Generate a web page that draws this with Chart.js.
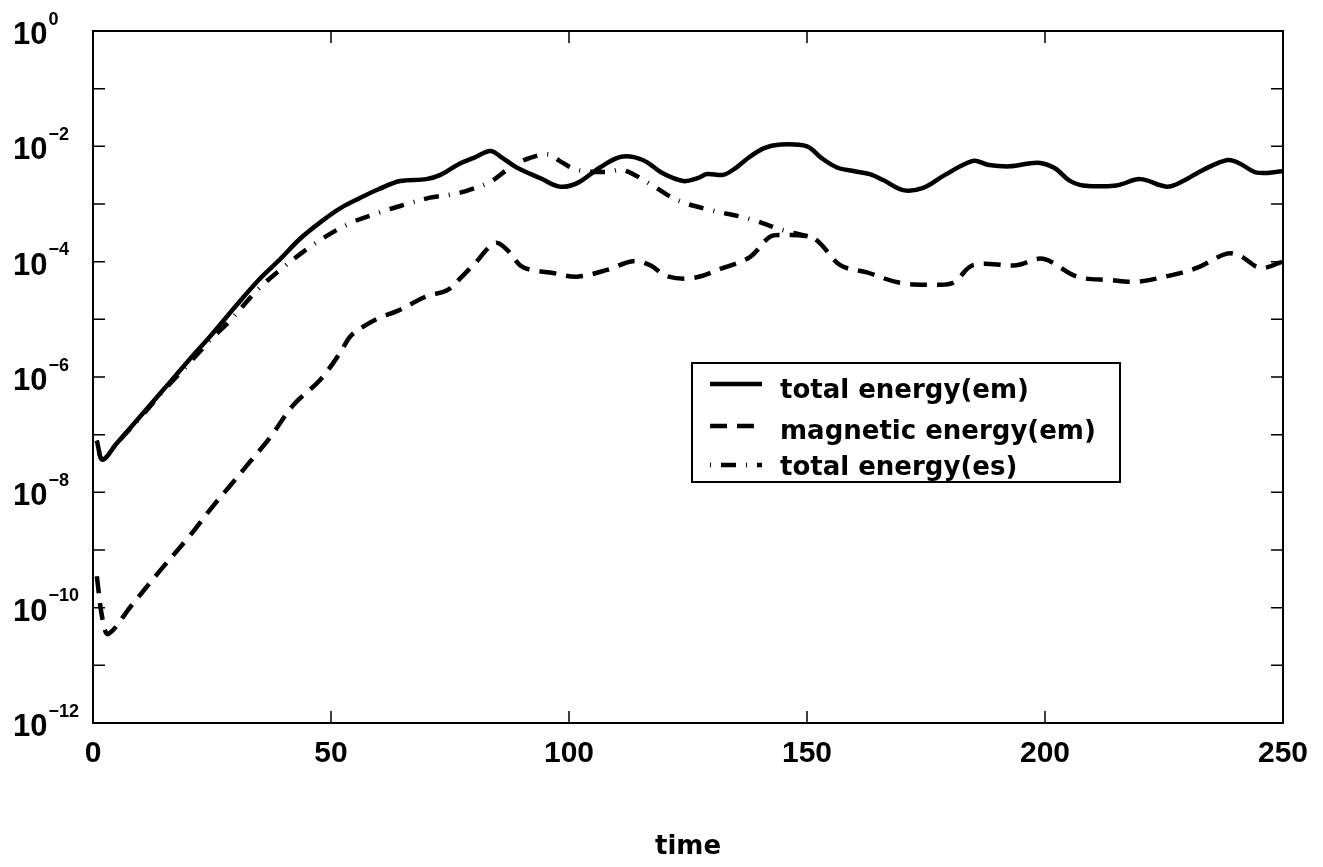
<!DOCTYPE html>
<html>
<head>
<meta charset="utf-8">
<script src="https://cdn.jsdelivr.net/npm/chart.js@4.4.0/dist/chart.umd.min.js"></script>
<style>
html, body { margin: 0; padding: 0; background: #fff; }
</style>
</head>
<body>
<canvas id="graficoEnergia" width="1323" height="867"></canvas>
<script>
// total energy (em) - solid line
var tempoTotalEm = [0.8, 2, 5, 10, 15, 20, 25, 30, 35, 39.3, 43.5, 48, 52, 56, 60, 64.5, 70, 73, 77, 80, 83.5, 86, 89, 94, 98, 101.7, 106.5, 111, 115.5, 119.7, 124, 127, 129, 132.4, 135, 138, 141, 144, 150, 153, 156.3, 160, 163.2, 166, 170.2, 174.4, 179, 184.9, 188, 192.6, 198.5, 202, 205, 208, 215, 220, 225.6, 229, 233.2, 238.4, 241, 244.5, 250];
var energiaTotalEm = [7.9e-8, 3.7e-8, 7.1e-8, 2.1e-7, 6.3e-7, 1.9e-6, 5.5e-6, 1.7e-5, 5.0e-5, 1.1e-4, 2.5e-4, 5.0e-4, 8.5e-4, 1.26e-3, 1.8e-3, 2.5e-3, 2.7e-3, 3.2e-3, 5.0e-3, 6.3e-3, 8.3e-3, 6.3e-3, 4.3e-3, 2.8e-3, 2.0e-3, 2.3e-3, 4.3e-3, 6.6e-3, 5.8e-3, 3.4e-3, 2.5e-3, 2.8e-3, 3.3e-3, 3.2e-3, 4.2e-3, 6.6e-3, 9.3e-3, 1.07e-2, 1.0e-2, 6.3e-3, 4.3e-3, 3.7e-3, 3.3e-3, 2.6e-3, 1.74e-3, 1.9e-3, 3.2e-3, 5.6e-3, 4.8e-3, 4.5e-3, 5.2e-3, 4.2e-3, 2.6e-3, 2.1e-3, 2.1e-3, 2.7e-3, 2.0e-3, 2.5e-3, 3.9e-3, 5.8e-3, 5.0e-3, 3.5e-3, 3.7e-3];

// magnetic energy (em) - dashed line
var tempoMagnetica = [0.8, 2, 3.2, 8, 14, 20.4, 25, 28.8, 33, 37.2, 42, 47.7, 51.9, 54, 56.7, 60, 64, 70, 74.4, 77, 80, 84.5, 87, 89.7, 92, 96, 101.7, 108, 113.4, 117, 120.6, 126, 132.4, 138, 142.2, 145, 150.6, 152.7, 157, 162.6, 169.5, 176.5, 180.7, 184.9, 194, 199.6, 206.7, 213.7, 219.3, 225.6, 231.9, 238.2, 241, 245.2, 250];
var energiaMagnetica = [3.5e-10, 6.3e-11, 3.5e-11, 1.07e-10, 4.3e-10, 1.8e-9, 5.5e-9, 1.3e-8, 3.4e-8, 8.9e-8, 3.2e-7, 8.9e-7, 2.6e-6, 5.0e-6, 7.4e-6, 1.05e-5, 1.4e-5, 2.5e-5, 3.2e-5, 5.0e-5, 8.9e-5, 2.1e-4, 1.6e-4, 8.7e-5, 7.2e-5, 6.5e-5, 5.5e-5, 7.2e-5, 1.02e-4, 8.7e-5, 5.6e-5, 5.2e-5, 7.8e-5, 1.2e-4, 2.7e-4, 2.9e-4, 2.7e-4, 2.1e-4, 8.7e-5, 6.5e-5, 4.3e-5, 4.0e-5, 4.3e-5, 8.7e-5, 8.7e-5, 1.12e-4, 5.5e-5, 4.8e-5, 4.5e-5, 5.6e-5, 7.8e-5, 1.38e-4, 1.26e-4, 7.8e-5, 1.0e-4];

// total energy (es) - dash-dot line
var tempoTotalEs = [0.8, 2, 5, 10, 15, 20, 25, 28.8, 34.5, 39.3, 46.2, 53.4, 60.3, 66, 70.8, 75, 77.7, 83.4, 87.6, 89.7, 93.9, 96, 98, 101.7, 108, 111.3, 116.4, 122.7, 129.6, 138, 145, 150.6, 152];
var energiaTotalEs = [7.9e-8, 3.7e-8, 7.1e-8, 2.0e-7, 6.0e-7, 1.66e-6, 4.7e-6, 9.5e-6, 3.2e-5, 7.2e-5, 1.95e-4, 4.4e-4, 7.2e-4, 1.0e-3, 1.29e-3, 1.45e-3, 1.62e-3, 2.4e-3, 4.3e-3, 5.4e-3, 7.1e-3, 7.1e-3, 5.6e-3, 3.9e-3, 3.6e-3, 3.9e-3, 2.4e-3, 1.17e-3, 7.9e-4, 5.5e-4, 3.5e-4, 2.7e-4, 2.4e-4];

var rotulosSeries = ['total energy(em)', 'magnetic energy(em)', 'total energy(es)'];

// ticks
var ticksX = [0, 50, 100, 150, 200, 250];
var decadasY = [1e-12, 1e-11, 1e-10, 1e-9, 1e-8, 1e-7, 1e-6, 1e-5, 1e-4, 1e-3, 1e-2, 1e-1, 1];
var expoentesY = ['\u221212', '', '\u221210', '', '\u22128', '', '\u22126', '', '\u22124', '', '\u22122', '', '0'];

function juntarPontos(tempos, valores) {
    var pontos = [];
    for (var i = 0; i < tempos.length; i++) {
        pontos.push({ x: tempos[i], y: valores[i] });
    }
    return pontos;
}

// frame, inward ticks and the 10^n labels
var molduraPlugin = {
    id: 'moldura',
    afterDatasetsDraw: function (chart) {
        var ctx = chart.ctx;
        var a = chart.chartArea;
        var sx = chart.scales.x;
        var sy = chart.scales.y;
        ctx.save();
        ctx.strokeStyle = '#000';
        ctx.lineWidth = 1.5;
        ctx.beginPath();
        for (var i = 0; i < ticksX.length; i++) {
            var px = sx.getPixelForValue(ticksX[i]);
            ctx.moveTo(px, a.bottom);
            ctx.lineTo(px, a.bottom - 12);
            ctx.moveTo(px, a.top);
            ctx.lineTo(px, a.top + 12);
        }
        for (var j = 0; j < decadasY.length; j++) {
            var py = sy.getPixelForValue(decadasY[j]);
            ctx.moveTo(a.left, py);
            ctx.lineTo(a.left + 12, py);
            ctx.moveTo(a.right, py);
            ctx.lineTo(a.right - 12, py);
        }
        ctx.stroke();

        ctx.lineWidth = 2;
        ctx.strokeRect(a.left, a.top, a.right - a.left, a.bottom - a.top);

        ctx.fillStyle = '#000';
        ctx.textAlign = 'left';
        ctx.textBaseline = 'alphabetic';
        for (var k = 0; k < decadasY.length; k++) {
            if (expoentesY[k] === '') continue;
            var y = sy.getPixelForValue(decadasY[k]);
            ctx.font = 'bold 31px "Liberation Sans"';
            ctx.fillText('10', 13, y + 13);
            var w = ctx.measureText('10').width;
            ctx.font = 'bold 18px "Liberation Sans"';
            ctx.fillText(expoentesY[k], 13 + w + 1, y - 6.5);
        }
        ctx.restore();
    }
};

// legend box inside the plot
var legendaPlugin = {
    id: 'legendaCaixa',
    afterDraw: function (chart) {
        var ctx = chart.ctx;
        var linhas = [384, 426, 465];
        var bases = [398, 439, 475];
        ctx.save();
        ctx.fillStyle = '#fff';
        ctx.fillRect(692, 363, 428, 119);
        ctx.strokeStyle = '#000';
        ctx.lineWidth = 2;
        ctx.strokeRect(692, 363, 428, 119);
        for (var i = 0; i < chart.data.datasets.length; i++) {
            var ds = chart.data.datasets[i];
            ctx.beginPath();
            ctx.lineWidth = ds.borderWidth;
            ctx.lineCap = 'butt';
            ctx.setLineDash(ds.borderDash || []);
            ctx.moveTo(710, linhas[i]);
            ctx.lineTo(762, linhas[i]);
            ctx.stroke();
            ctx.setLineDash([]);
            ctx.fillStyle = '#000';
            ctx.font = 'bold 26px "DejaVu Sans"';
            ctx.textAlign = 'left';
            ctx.textBaseline = 'alphabetic';
            ctx.fillText(ds.label, 780, bases[i]);
        }
        ctx.restore();
    }
};

var config = {
    type: 'line',
    data: {
        datasets: [{
            label: rotulosSeries[0],
            data: juntarPontos(tempoTotalEm, energiaTotalEm),
            borderColor: '#000',
            borderWidth: 4.5,
            borderDash: [],
            pointRadius: 0,
            tension: 0.35,
            fill: false
        }, {
            label: rotulosSeries[1],
            data: juntarPontos(tempoMagnetica, energiaMagnetica),
            borderColor: '#000',
            borderWidth: 4.5,
            borderDash: [17, 10],
            pointRadius: 0,
            tension: 0.35,
            fill: false
        }, {
            label: rotulosSeries[2],
            data: juntarPontos(tempoTotalEs, energiaTotalEs),
            borderColor: '#000',
            borderWidth: 4.5,
            borderDash: [1, 10, 15, 10],
            pointRadius: 0,
            tension: 0.35,
            fill: false
        }]
    },
    options: {
        responsive: false,
        animation: false,
        devicePixelRatio: 1,
        layout: {
            padding: { top: 31, right: 40, bottom: 0, left: 0 }
        },
        plugins: {
            legend: { display: false },
            tooltip: { enabled: false }
        },
        scales: {
            x: {
                type: 'linear',
                min: 0,
                max: 250,
                afterBuildTicks: function (scale) {
                    scale.ticks = ticksX.map(function (v) { return { value: v }; });
                },
                afterFit: function (scale) {
                    scale.height = 144;
                },
                grid: { display: false, drawTicks: false },
                border: { display: false },
                ticks: {
                    padding: 13,
                    color: '#000',
                    maxRotation: 0,
                    font: { family: 'Liberation Sans', size: 30, weight: 'bold' }
                },
                title: {
                    display: true,
                    text: 'time',
                    color: '#000',
                    font: { family: 'DejaVu Sans', size: 26, weight: 'bold' }
                }
            },
            y: {
                type: 'logarithmic',
                min: 1e-12,
                max: 1,
                afterBuildTicks: function (scale) {
                    scale.ticks = decadasY.map(function (v) { return { value: v }; });
                },
                afterFit: function (scale) {
                    scale.width = 93;
                },
                grid: { display: false },
                border: { display: false },
                ticks: { display: false }
            }
        }
    },
    plugins: [molduraPlugin, legendaPlugin]
};

var ctx = document.getElementById('graficoEnergia').getContext('2d');
window.graficoEnergia = new Chart(ctx, config);
</script>
</body>
</html>
